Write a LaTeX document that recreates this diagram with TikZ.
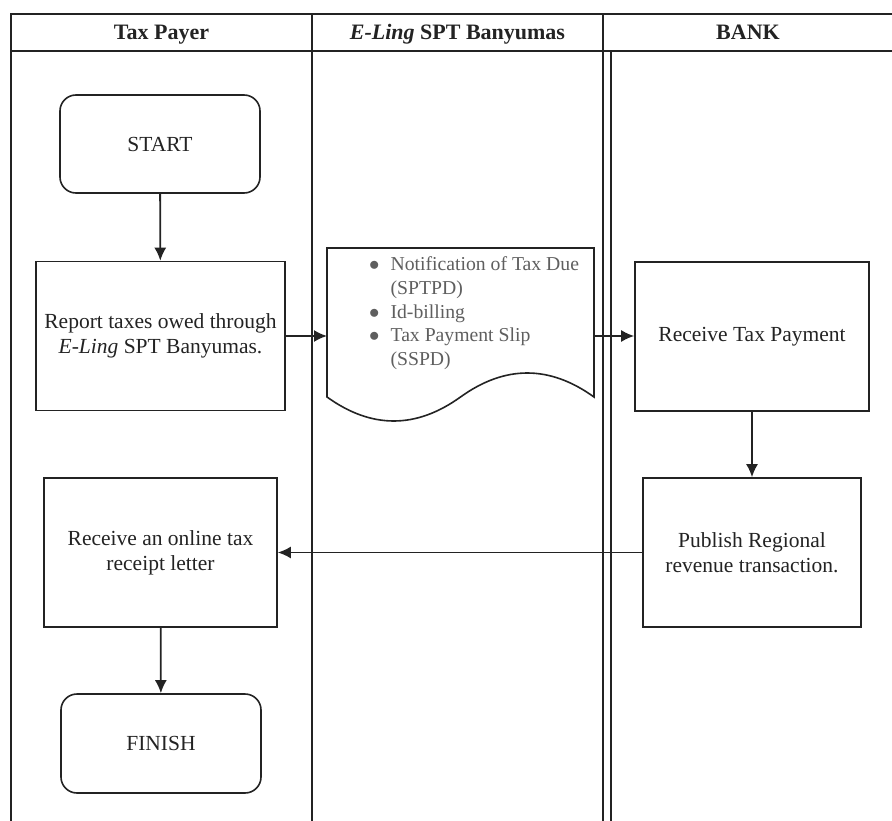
\documentclass[tikz,border=0pt]{standalone}
\usepackage{fontspec}
\setmainfont{Liberation Serif}
\usetikzlibrary{arrows.meta,positioning}
\definecolor{inkgray}{RGB}{35,35,35}
\definecolor{listgray}{RGB}{95,95,95}

\begin{document}
\begin{tikzpicture}[x=1pt,y=-1pt,
    lane/.style={draw=inkgray, line width=1.4pt},
    head/.style={anchor=base, font=\fontsize{22}{26}\selectfont\bfseries, text=inkgray},
    process/.style={draw=inkgray, line width=1.6pt, minimum height=149pt,
        inner sep=0pt, align=center, text=inkgray,
        font=\fontsize{21.5}{25}\selectfont},
    terminal/.style={process, rounded corners=16pt, minimum width=200pt,
        minimum height=98pt},
    flow/.style={draw=inkgray, line width=1.8pt, -{Latex[length=13pt,width=12pt]}}]
    \useasboundingbox (0,0) rectangle (892,821);

    % Swimlanes
    \draw[lane] (892,14) -- (11,14) -- (11,821);
    \draw[lane] (11,51) -- (892,51);
    \draw[lane] (312,14) -- (312,821);
    \draw[lane] (603,14) -- (603,821);
    \draw[lane] (611,51) -- (611,821);

    \node[head] (hpayer) at (161.5,40) {Tax Payer};
    \node[head] (heling) at (457.5,40) {\textit{E-Ling} SPT Banyumas};
    \node[head] (hbank) at (748,40) {BANK};

    % Tax payer lane
    \node[terminal] (start) at (160,144) {START};
    \node[process, minimum width=249pt] (report) at (160.5,336)
        {Report taxes owed through\\\textit{E-Ling} SPT Banyumas.};
    \node[process, minimum width=233pt] (letter) at (160.5,552.5)
        {Receive an online tax\\receipt letter};
    \node[terminal, minimum height=99pt] (finish) at (161,743.5) {FINISH};

    % Document shape
    \draw[draw=inkgray, line width=1.6pt, fill=white]
        (327,248) -- (594,248) -- (594,397)
        .. controls (549.5,365) and (505,365) .. (460.5,397)
        .. controls (416,429) and (371.5,429) .. (327,397) -- cycle;
    \coordinate (docin) at (327,336);
    \coordinate (docout) at (594,336);
    \node[anchor=north west, inner sep=0pt, text=listgray,
        font=\fontsize{19.7}{23.7}\selectfont] (doclist) at (369,254)
        {\begin{tabular}{@{}c@{\hspace{11pt}}l@{}}
            $\bullet$ & Notification of Tax Due\\
                      & (SPTPD)\\
            $\bullet$ & Id-billing\\
            $\bullet$ & Tax Payment Slip\\
                      & (SSPD)
        \end{tabular}};

    % Bank lane
    \node[process, minimum width=234pt] (pay) at (752,336.5) {Receive Tax Payment};
    \node[process, minimum width=218pt] (publish) at (752,552.5)
        {Publish Regional\\revenue transaction.};

    % Connectors
    \draw[flow] (start) -- (report);
    \draw[flow] (report.east |- docin) -- (docin);
    \draw[flow] (docout) -- (pay.west |- docout);
    \draw[flow] (pay) -- (publish);
    \draw[flow] (publish) -- (letter);
    \draw[flow] (letter) -- (finish);
\end{tikzpicture}
\end{document}
